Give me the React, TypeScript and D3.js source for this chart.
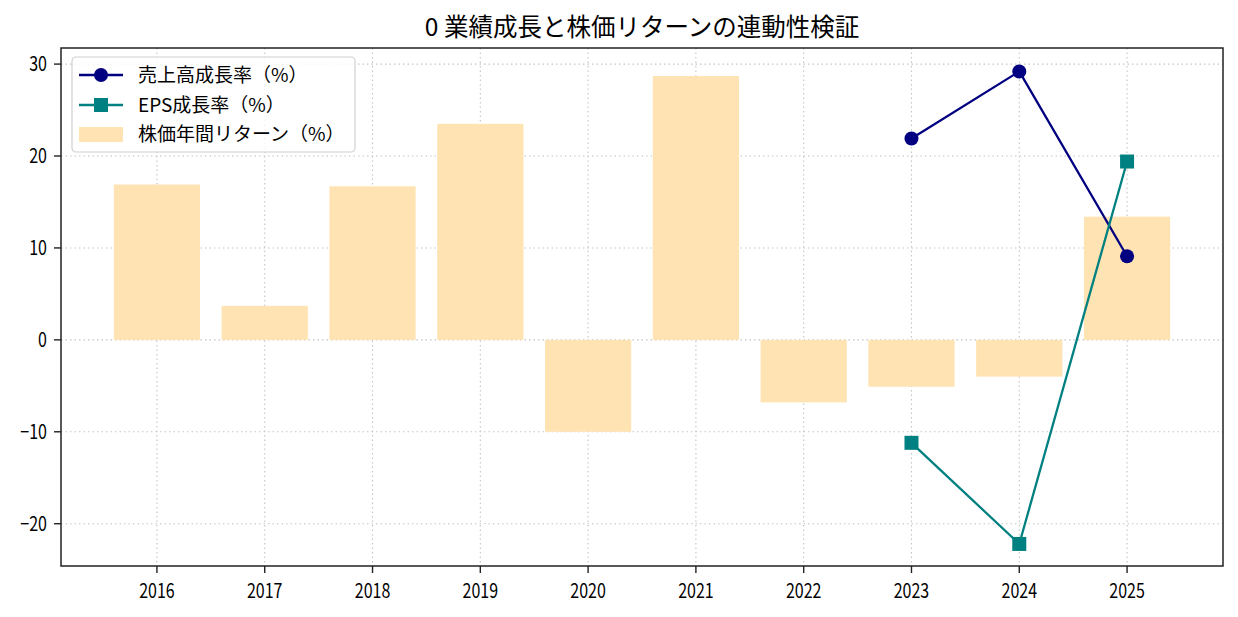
import React from 'react';
import * as d3 from 'd3';

const years = ['2016', '2017', '2018', '2019', '2020', '2021', '2022', '2023', '2024', '2025'];
const stockReturn = [16.9, 3.7, 16.7, 23.5, -10.0, 28.7, -6.8, -5.1, -4.0, 13.4];
const lineYears = ['2023', '2024', '2025'];
const salesGrowth = [21.9, 29.2, 9.1];
const epsGrowth = [-11.2, -22.2, 19.4];
const yTicks = [-20, -10, 0, 10, 20, 30];

const W = 1238, H = 617;
const margin = { top: 48, right: 15, bottom: 51, left: 61 };
const innerW = W - margin.left - margin.right;
const innerH = H - margin.top - margin.bottom;
const font = '"Noto Sans CJK JP", "Noto Sans", sans-serif';

const App = () => {
  const idx = (y: string) => years.indexOf(y);
  const x = d3.scaleLinear().domain([-0.89, years.length - 1 + 0.89]).range([0, innerW]);
  const y = d3.scaleLinear().domain([-24.6, 31.75]).range([innerH, 0]);
  const barW = x(0.8) - x(0);

  const salesLine = d3.line<number>().x((_, i) => x(idx(lineYears[i]))).y((d) => y(d))(salesGrowth);
  const epsLine = d3.line<number>().x((_, i) => x(idx(lineYears[i]))).y((d) => y(d))(epsGrowth);

  return (
    <svg width={W} height={H} style={{ position: 'absolute', left: 0, top: 0, background: '#fff' }} fontFamily={font}>
      <text x={margin.left + innerW / 2} y={36} textAnchor="middle" fontSize={24.5} fill="#000">
        0 業績成長と株価リターンの連動性検証
      </text>
      <g transform={`translate(${margin.left},${margin.top})`}>
        {/* grid */}
        {yTicks.map((t) => (
          <line key={'gy' + t} x1={0} x2={innerW} y1={y(t)} y2={y(t)} stroke="#c4c4c4" strokeDasharray="1.5,3" strokeWidth={1.1} />
        ))}
        {years.map((yr, i) => (
          <line key={'gx' + yr} x1={x(i)} x2={x(i)} y1={0} y2={innerH} stroke="#c4c4c4" strokeDasharray="1.5,3" strokeWidth={1.1} />
        ))}
        {/* bars */}
        {stockReturn.map((v, i) => (
          <rect key={'b' + i} x={x(i) - barW / 2} width={barW} y={y(Math.max(v, 0))} height={Math.abs(y(v) - y(0))} fill="#ffe3b3" />
        ))}
        {/* lines */}
        <path d={salesLine || ''} fill="none" stroke="#000080" strokeWidth={2.3} />
        {salesGrowth.map((v, i) => (
          <circle key={'s' + i} cx={x(idx(lineYears[i]))} cy={y(v)} r={7} fill="#000080" />
        ))}
        <path d={epsLine || ''} fill="none" stroke="#008080" strokeWidth={2.3} />
        {epsGrowth.map((v, i) => (
          <rect key={'e' + i} x={x(idx(lineYears[i])) - 7} y={y(v) - 7} width={14} height={14} fill="#008080" />
        ))}
        {/* frame */}
        <rect x={0} y={0} width={innerW} height={innerH} fill="none" stroke="#222" strokeWidth={1.5} />
        {/* y axis */}
        {yTicks.map((t) => (
          <g key={'ty' + t} transform={`translate(0,${y(t)})`}>
            <line x1={-7} x2={0} stroke="#222" strokeWidth={1.4} />
            <text transform="translate(-14,0) scale(0.8,1)" dy="0.36em" textAnchor="end" fontSize={20} fill="#000">
              {t < 0 ? '\u2212' + Math.abs(t) : t}
            </text>
          </g>
        ))}
        {/* x axis */}
        {years.map((yr, i) => (
          <g key={'tx' + yr} transform={`translate(${x(i)},${innerH})`}>
            <line y1={0} y2={7} stroke="#222" strokeWidth={1.4} />
            <text transform="translate(0,32) scale(0.8,1)" textAnchor="middle" fontSize={20} fill="#000">{yr}</text>
          </g>
        ))}
        {/* legend */}
        <g transform="translate(11,9)">
          <rect x={0} y={0} width={283} height={95} rx={4} fill="#fff" fillOpacity={0.8} stroke="#d0d0d0" strokeWidth={1.2} />
          <line x1={7} x2={51} y1={18} y2={18} stroke="#000080" strokeWidth={2.3} />
          <circle cx={29} cy={18} r={7} fill="#000080" />
          <text x={66} y={18} dy="0.35em" fontSize={19} fill="#000">売上高成長率（%）</text>
          <line x1={7} x2={51} y1={48} y2={48} stroke="#008080" strokeWidth={2.3} />
          <rect x={22} y={41} width={14} height={14} fill="#008080" />
          <text x={66} y={48} dy="0.35em" fontSize={19} fill="#000">EPS成長率（%）</text>
          <rect x={7} y={70} width={44} height={15} fill="#ffe3b3" />
          <text x={66} y={77} dy="0.35em" fontSize={19} fill="#000">株価年間リターン（%）</text>
        </g>
      </g>
    </svg>
  );
};

export default App;
